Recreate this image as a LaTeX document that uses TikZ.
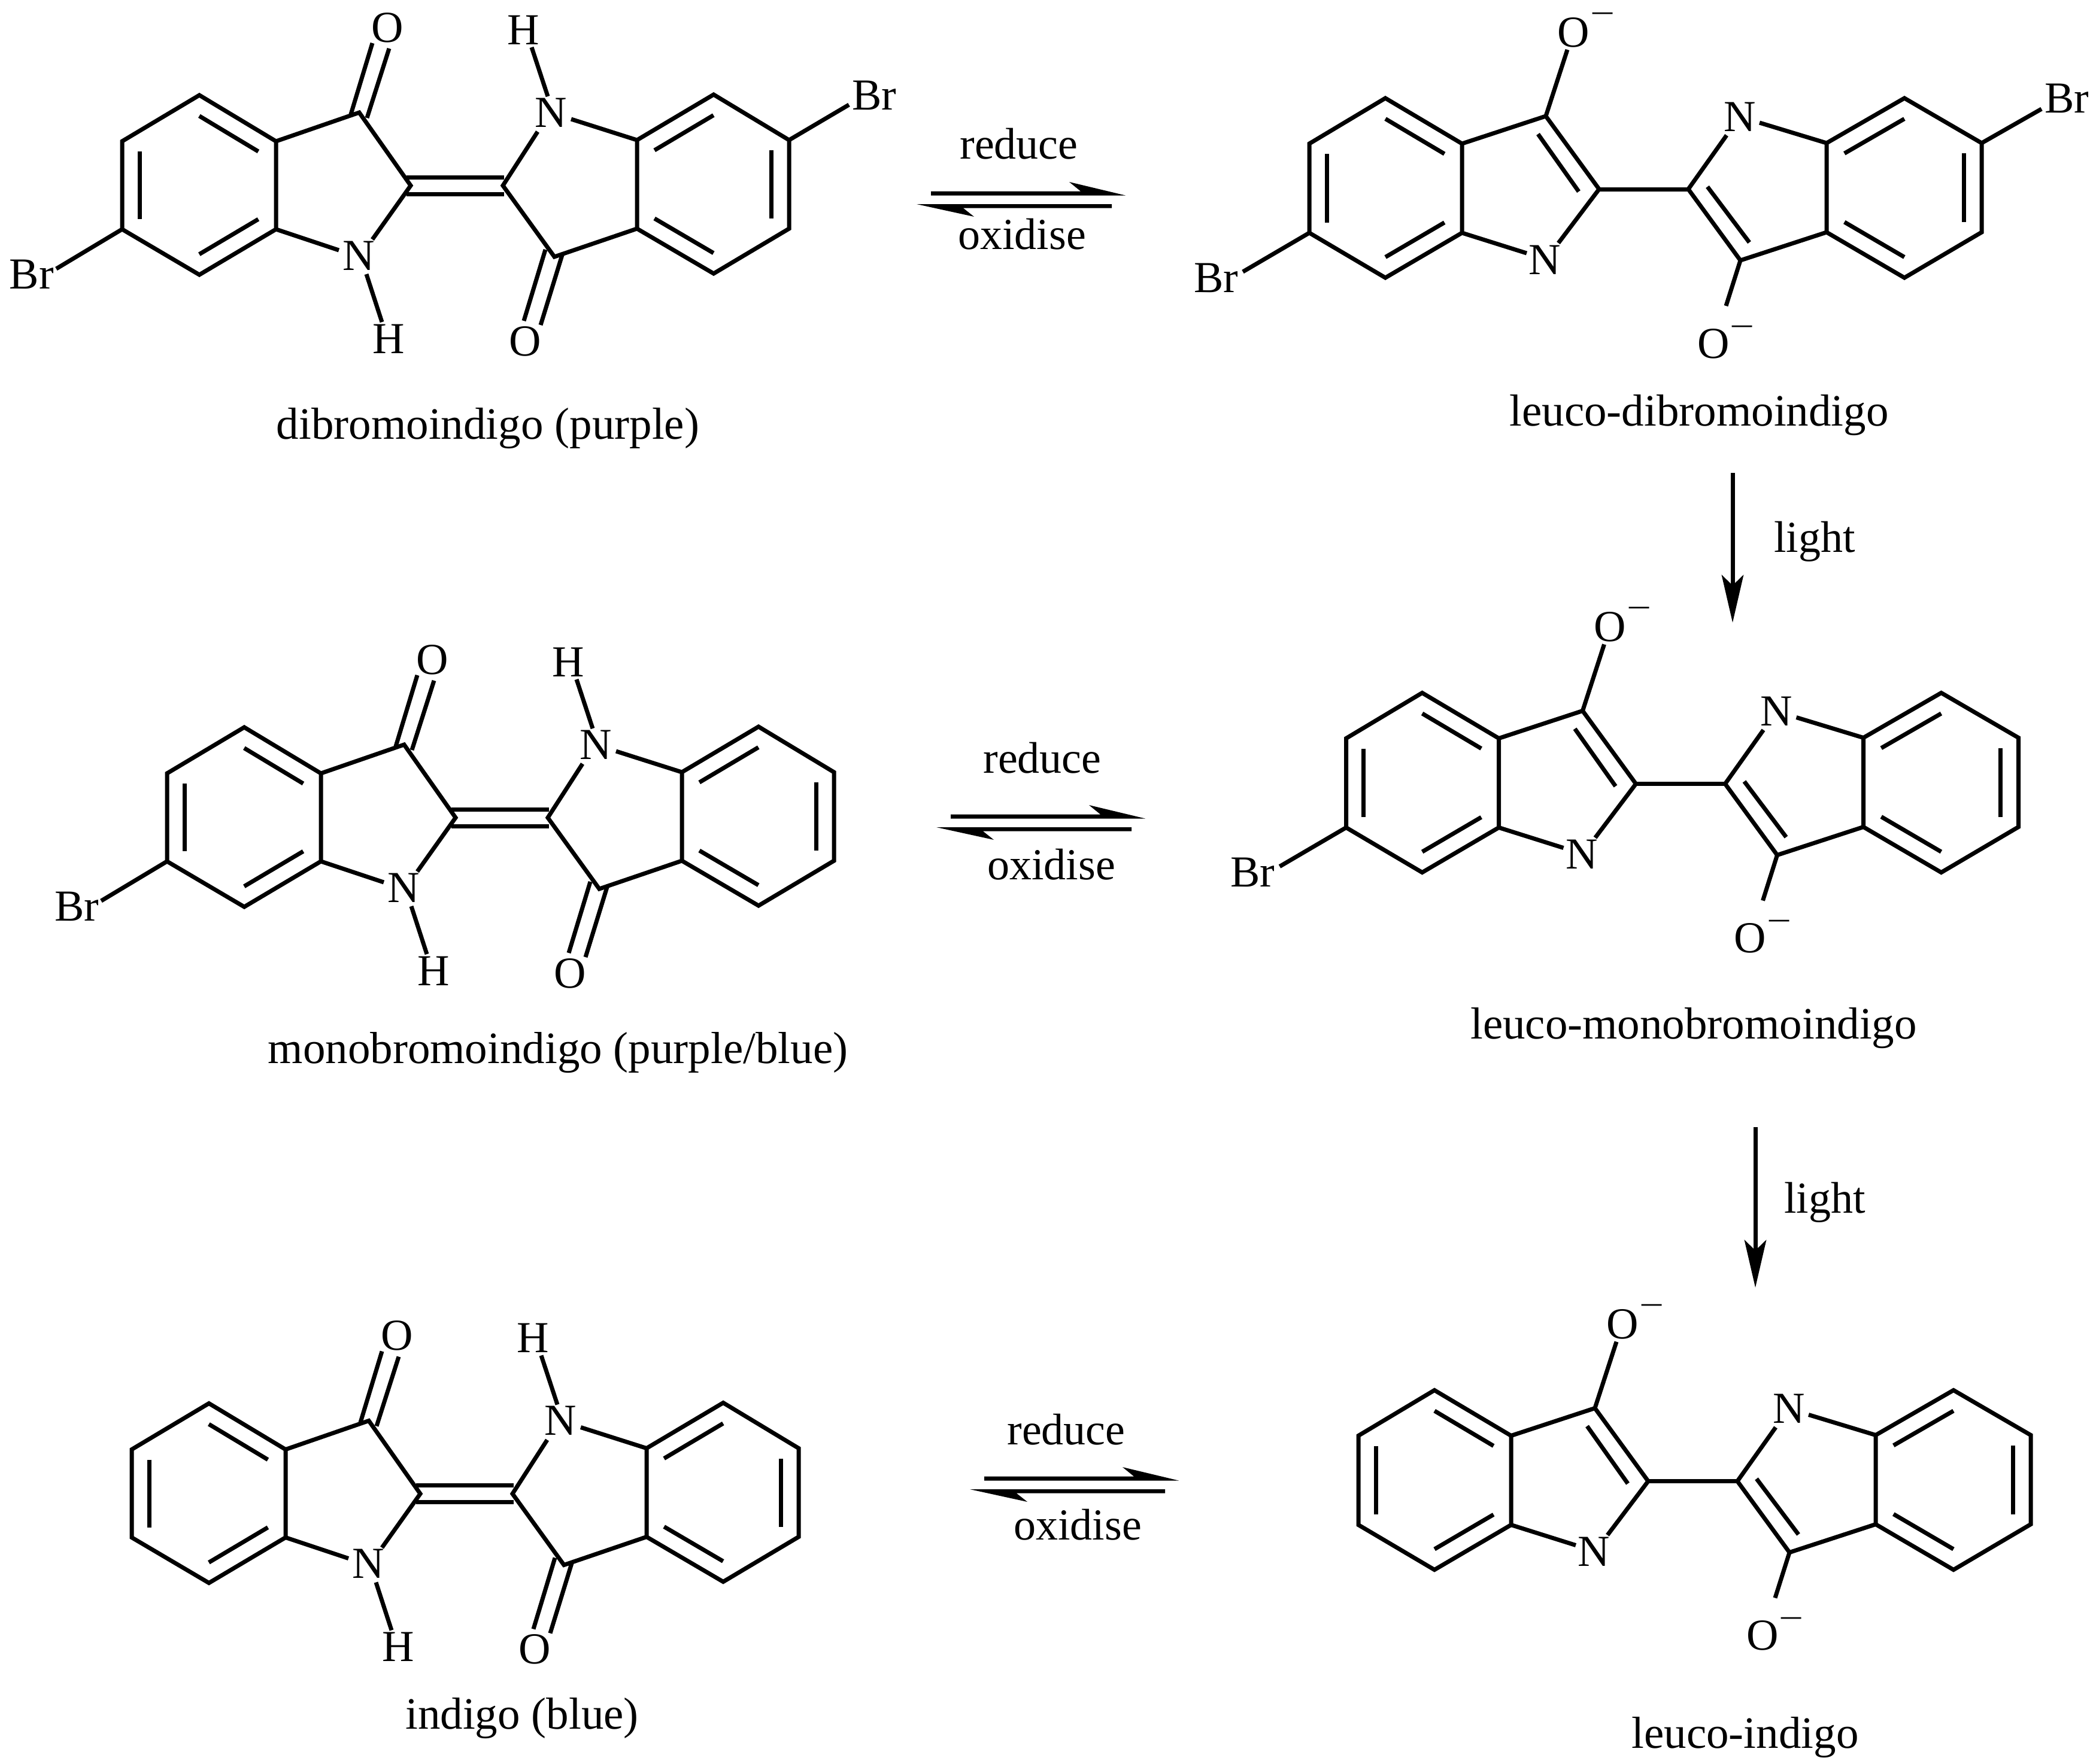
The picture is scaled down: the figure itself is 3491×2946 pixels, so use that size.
\documentclass[tikz,border=0pt]{standalone}
\usepackage{fontspec}
\setmainfont{Liberation Serif}
\usetikzlibrary{calc}
\tikzset{
  bond/.style={line width=3.5pt,line join=miter,line cap=butt,black},
  atom/.style={inner sep=0pt,outer sep=0pt,font=\fontsize{37}{40}\selectfont,text=black},
  charge/.style={inner sep=0pt,outer sep=0pt,font=\fontsize{27}{30}\selectfont,text=black},
  caption/.style={inner sep=0pt,outer sep=0pt,anchor=base,font=\fontsize{37.5}{40}\selectfont,text=black},
  captionw/.style={inner sep=0pt,outer sep=0pt,anchor=base west,font=\fontsize{37}{40}\selectfont,text=black},
  arrowlabel/.style={inner sep=0pt,outer sep=0pt,anchor=base,font=\fontsize{37}{40}\selectfont,text=black}
}
\newcommand{\ringdraw}[2]{%
  \draw[bond] (#1#21)--(#1#22)--(#1#23)--(#1#24)--(#1#25)--(#1#26)--cycle;
}
\newcommand{\innerL}[1]{%
  \draw[bond] ($(#1c)!.77!(#11)$)--($(#1c)!.77!(#16)$);
  \draw[bond] ($(#1c)!.77!(#12)$)--($(#1c)!.77!(#13)$);
  \draw[bond] ($(#1c)!.77!(#14)$)--($(#1c)!.77!(#15)$);
}
\newcommand{\indigoMol}[3]{%
\begin{scope}[shift={(#2,#3)}]
  \coordinate (#1La1) at (-559,-74); \coordinate (#1La2) at (-430,-151);
  \coordinate (#1La3) at (-302,-74); \coordinate (#1La4) at (-302,73);
  \coordinate (#1La5) at (-430,149); \coordinate (#1La6) at (-559,73);
  \coordinate (#1Lac) at (-430.5,0);
  \coordinate (#1Ra1) at (555,72); \coordinate (#1Ra2) at (429,147);
  \coordinate (#1Ra3) at (301,72); \coordinate (#1Ra4) at (301,-76);
  \coordinate (#1Ra5) at (429,-152); \coordinate (#1Ra6) at (555,-76);
  \coordinate (#1Rac) at (428,-2);
  \coordinate (#1C3) at (-163,-122); \coordinate (#1C2) at (-77,0);
  \coordinate (#1C3p) at (163,119); \coordinate (#1C2p) at (77,0);
  \coordinate (#1NC) at (-141,90); \coordinate (#1NA) at (-197,108);
  \coordinate (#1NH) at (-151,148); \coordinate (#1HN) at (-125,228);
  \coordinate (#1NpC) at (135,-90); \coordinate (#1NpA) at (191,-111);
  \coordinate (#1NpH) at (152,-149); \coordinate (#1HpN) at (125,-231);
  \coordinate (#1da) at (-177,-119); \coordinate (#1db) at (-141,-238);
  \coordinate (#1dc) at (-150,-113); \coordinate (#1dd) at (-113,-229);
  \coordinate (#1ea) at (148,107); \coordinate (#1eb) at (112,226);
  \coordinate (#1ec) at (176,116); \coordinate (#1ed) at (140,233);
  \coordinate (#1fa) at (-84,-14); \coordinate (#1fb) at (79,-14);
  \coordinate (#1fc) at (-84,14); \coordinate (#1fd) at (79,14);
  \node[atom] (#1N) at (-164,117) {N};
  \node[atom] (#1Np) at (157,-122) {N};
  \node[atom] (#1H) at (-114,256) {H};
  \node[atom] (#1Hp) at (111,-260) {H};
  \node[atom] (#1O) at (-116,-264) {O};
  \node[atom] (#1Op) at (114.5,260) {O};
\end{scope}
  \ringdraw{#1}{La}\ringdraw{#1}{Ra}
  \innerL{#1La}\innerL{#1Ra}
  \draw[bond] (#1La3)--(#1C3)--(#1C2)--(#1NC);
  \draw[bond] (#1La4)--(#1NA);
  \draw[bond] (#1NH)--(#1HN);
  \draw[bond] (#1Ra4)--(#1NpA);
  \draw[bond] (#1Ra3)--(#1C3p)--(#1C2p)--(#1NpC);
  \draw[bond] (#1NpH)--(#1HpN);
  \draw[bond] (#1da)--(#1db);
  \draw[bond] (#1dc)--(#1dd);
  \draw[bond] (#1ea)--(#1eb);
  \draw[bond] (#1ec)--(#1ed);
  \draw[bond] (#1fa)--(#1fb);
  \draw[bond] (#1fc)--(#1fd);
}
\newcommand{\indigoBrL}[3]{%
\begin{scope}[shift={(#2,#3)}]
  \node[atom] (#1BrL) at (-710,148) {Br};
  \coordinate (#1BrLe) at (-669,139);
\end{scope}
  \draw[bond] (#1La6)--(#1BrLe);
}
\newcommand{\indigoBrR}[3]{%
\begin{scope}[shift={(#2,#3)}]
  \node[atom] (#1BrR) at (697,-151) {Br};
  \coordinate (#1BrRe) at (655,-135);
\end{scope}
  \draw[bond] (#1Ra6)--(#1BrRe);
}
\newcommand{\leucoMol}[3]{%
\begin{scope}[shift={(#2,#3)}]
  \coordinate (#1La1) at (-559,-75); \coordinate (#1La2) at (-432,-151);
  \coordinate (#1La3) at (-304,-75); \coordinate (#1La4) at (-304,74);
  \coordinate (#1La5) at (-432,149); \coordinate (#1La6) at (-559,74);
  \coordinate (#1Lac) at (-431.5,-1);
  \coordinate (#1Ra1) at (564,73); \coordinate (#1Ra2) at (435,149);
  \coordinate (#1Ra3) at (305,73); \coordinate (#1Ra4) at (305,-76);
  \coordinate (#1Ra5) at (435,-151); \coordinate (#1Ra6) at (564,-76);
  \coordinate (#1Rac) at (434.5,-1);
  \coordinate (#1C3) at (-164,-121); \coordinate (#1C2) at (-75,1);
  \coordinate (#1C3p) at (161,120); \coordinate (#1C2p) at (74,1);
  \coordinate (#1NA) at (-196,108); \coordinate (#1NC) at (-143,91);
  \coordinate (#1NpC) at (138,-89); \coordinate (#1NpA) at (193,-110);
  \coordinate (#1OC) at (-128,-232); \coordinate (#1OpC) at (137,196);
  \coordinate (#1ia) at (-177,-91); \coordinate (#1ib) at (-109,5);
  \coordinate (#1ic) at (106,-3); \coordinate (#1id) at (176,90);
  \node[atom] (#1N) at (-165.5,119) {N};
  \node[atom] (#1Np) at (160,-120) {N};
  \node[atom] (#1O) at (-118,-261) {O};
  \node[atom] (#1Op) at (116,259) {O};
  \node[charge] (#1m) at (-69,-284.5) {\scalebox{1.35}[1]{−}};
  \node[charge] (#1mp) at (164.5,238.5) {\scalebox{1.35}[1]{−}};
\end{scope}
  \ringdraw{#1}{La}\ringdraw{#1}{Ra}
  \innerL{#1La}\innerL{#1Ra}
  \draw[bond] (#1La3)--(#1C3)--(#1C2)--(#1NC);
  \draw[bond] (#1La4)--(#1NA);
  \draw[bond] (#1Ra4)--(#1NpA);
  \draw[bond] (#1Ra3)--(#1C3p)--(#1C2p)--(#1NpC);
  \draw[bond] (#1C2)--(#1C2p);
  \draw[bond] (#1C3)--(#1OC);
  \draw[bond] (#1C3p)--(#1OpC);
  \draw[bond] (#1ia)--(#1ib);
  \draw[bond] (#1ic)--(#1id);
}
\newcommand{\leucoBrL}[3]{%
\begin{scope}[shift={(#2,#3)}]
  \node[atom] (#1BrL) at (-715,149) {Br};
  \coordinate (#1BrLe) at (-670,139);
\end{scope}
  \draw[bond] (#1La6)--(#1BrLe);
}
\newcommand{\leucoBrR}[3]{%
\begin{scope}[shift={(#2,#3)}]
  \node[atom] (#1BrR) at (706,-151) {Br};
  \coordinate (#1BrRe) at (664,-133);
\end{scope}
  \draw[bond] (#1Ra6)--(#1BrRe);
}
\newcommand{\equil}[3]{%
\begin{scope}[shift={(#2,#3)}]
  \coordinate (#1a) at (0,-3.5); \coordinate (#1b) at (250,-3.5);
  \coordinate (#1c) at (231,-19); \coordinate (#1d) at (325,3.5);
  \coordinate (#1e) at (0,3.5);
  \coordinate (#1f) at (302,18); \coordinate (#1g) at (-24,18);
  \coordinate (#1h) at (72,39); \coordinate (#1i) at (54,24.7);
  \coordinate (#1j) at (302,24.7);
\end{scope}
  \fill[black] (#1a)--(#1b)--(#1c)--(#1d)--(#1e)--cycle;
  \fill[black] (#1f)--(#1g)--(#1h)--(#1i)--(#1j)--cycle;
}
\newcommand{\lightarr}[4]{%
  \coordinate (#1s) at (#2,#3);
  \coordinate (#1t) at (#2,#4);
  \coordinate (#1n) at ($(#1t)+(0,-62)$);
  \coordinate (#1u) at ($(#1t)+(-18.5,-80)$);
  \coordinate (#1v) at ($(#1t)+(18.5,-80)$);
  \draw[bond] (#1s)--(#1n);
  \fill[black] (#1u)--(#1t)--(#1v)--(#1n)--cycle;
}
\begin{document}
\begin{tikzpicture}[x=0.5pt,y=-0.5pt]
\useasboundingbox (0,0) rectangle (3491,2946);
% purple row
\indigoMol{mA}{763}{310}
\indigoBrL{mA}{763}{310}
\indigoBrR{mA}{763}{310}
\node[caption] (capA) at (815,733) {dibromoindigo (purple)};
\equil{eqA}{1555}{323}
\node[arrowlabel] (redA) at (1702,265) {reduce};
\node[arrowlabel] (oxA) at (1707,416) {oxidise};
\leucoMol{lA}{2746}{315}
\leucoBrL{lA}{2746}{315}
\leucoBrR{lA}{2746}{315}
\node[caption] (capLA) at (2838,711) {leuco-dibromoindigo};
\lightarr{liA}{2894}{790}{1040}
\node[captionw] (liTA) at (2963,922) {light};
% middle row
\indigoMol{mB}{838}{1366}
\indigoBrL{mB}{838}{1366}
\node[caption] (capB) at (932,1776) {monobromoindigo (purple/blue)};
\equil{eqB}{1588}{1364}
\node[arrowlabel] (redB) at (1741,1291) {reduce};
\node[arrowlabel] (oxB) at (1756,1469) {oxidise};
\leucoMol{lB}{2807.5}{1308.5}
\leucoBrL{lB}{2807.5}{1308.5}
\node[caption] (capLB) at (2829,1735) {leuco-monobromoindigo};
\lightarr{liB}{2932}{1883}{2151}
\node[captionw] (liTB) at (2980,2026) {light};
% bottom row
\indigoMol{mC}{779}{2495.5}
\node[caption] (capC) at (872,2888) {indigo (blue)};
\equil{eqC}{1644}{2470}
\node[arrowlabel] (redC) at (1781,2413) {reduce};
\node[arrowlabel] (oxC) at (1800,2572) {oxidise};
\leucoMol{lC}{2828}{2473.5}
\node[caption] (capLC) at (2915,2920) {leuco-indigo};
\end{tikzpicture}
\end{document}
